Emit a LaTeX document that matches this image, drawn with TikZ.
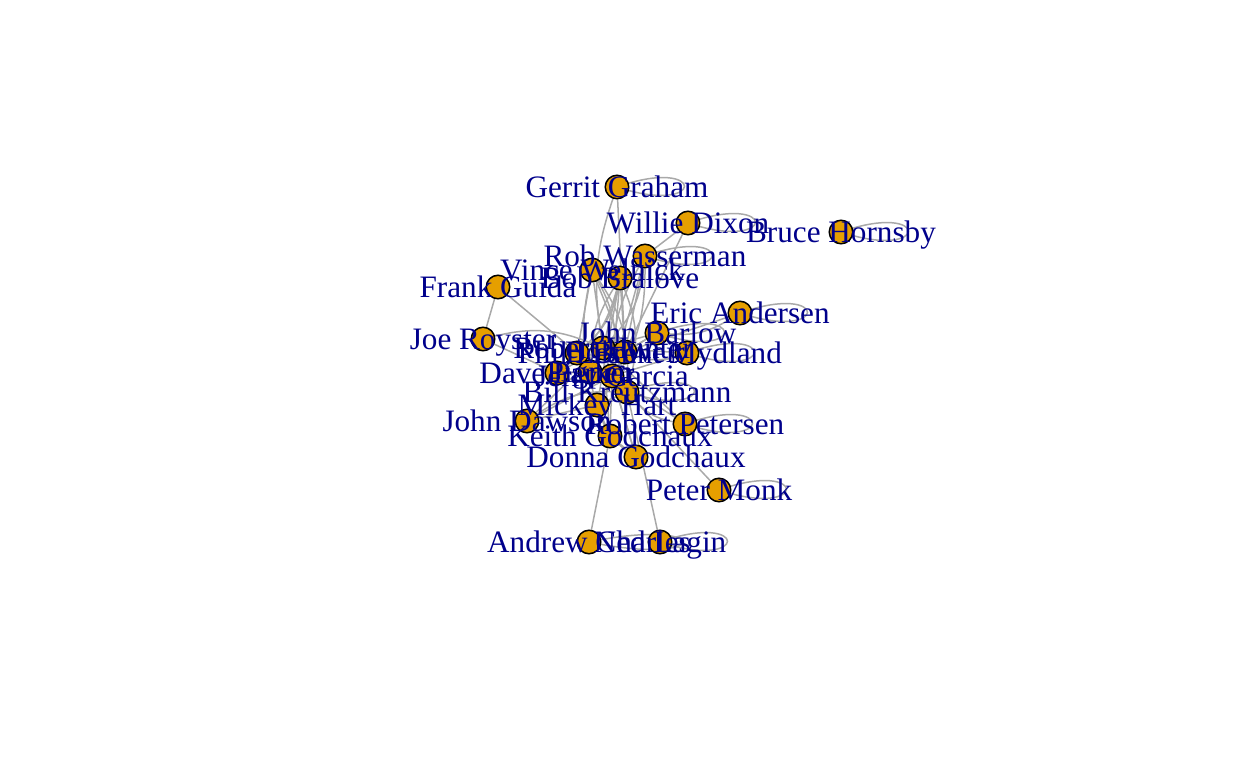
\documentclass[tikz,border=0pt]{standalone}
\usepackage{fontspec}
\setmainfont{Liberation Serif}
\usetikzlibrary{backgrounds}
\definecolor{vfill}{HTML}{E69F00}
\definecolor{lab}{HTML}{00008B}
\definecolor{edgec}{HTML}{A9A9A9}
\begin{document}
\begin{tikzpicture}[x=1pt,y=-1pt,
  vert/.style={circle,draw=black,line width=1.5pt,fill=vfill,minimum size=23.5pt,inner sep=0pt},
  lbl/.style={text=lab,font=\fontsize{31.2}{31.2}\selectfont,inner sep=0pt,text height=21pt,text depth=0pt,anchor=center},
  edge/.style={draw=edgec,line width=1.5pt}]
\useasboundingbox (0,0) rectangle (1248,768);
% vertices
\foreach \n/\x/\y in {RH/603/348,BW/625/352,PL/577/353,DP/557/373,PP/590/372,JG/612/376,BK/627/392,MH/597/405,
  JB/657/333,BM/687/353,KG/610/436,DG/636/457,RP/685/424,JD/527/421,JR/483/339,FG/498/287,VW/592/270,
  BB/620/278,RW/645/256,WD/688/223,GG/617/187,BH/841/232,EA/740/313,PM/719/490,AC/589/542,NL/660/542}
  \node[vert] (\n) at (\x,\y) {};
% edges
\begin{pgfonlayer}{background}
\foreach \a/\b in {GG/BW,WD/RW,WD/BW,RW/BW,RW/JG,VW/RH,VW/BW,VW/PL,BB/RH,BB/BW,BB/JG,BB/MH,
  FG/JR,FG/PL,JR/DP,JB/BW,JB/RH,JB/BM,BM/RH,BM/JG,JD/RH,JD/MH,JD/JG,RP/RH,RP/JG,KG/RH,KG/JG,KG/DG,
  DG/RH,DG/JG,PM/BK,AC/KG,NL/BK,RH/JG,RH/BW,RH/PL,BW/JG,JG/BK,BK/MH,MH/JG,PL/PP,DP/PP,DP/RH,EA/BW,MH/KG}
  \draw[edge] (\a) -- (\b);
\foreach \a/\b in {RW/RH,VW/JG,VW/BB,BB/BK,BB/PL,RW/MH,VW/BK,BB/DP,JR/RH,EA/JB,BM/BW,RP/BK,DG/MH,JD/BK}
  \draw[edge] (\a) to[bend left=18] (\b);
\foreach \a/\b in {VW/MH,BB/PP,RW/JG,GG/RH,JB/JG}
  \draw[edge] (\a) to[bend right=14] (\b);
\foreach \n in {GG,WD,BH,RW,EA,BM,RP,PM,NL,BK,JB}
  \draw[edge] (\n.center) .. controls +(90,-32) and +(90,30) .. (\n.center);
\draw[edge] (AC.center) .. controls +(125,-26) and +(125,26) .. (AC.center);
\end{pgfonlayer}
% labels
\node[lbl] at (GG) {Gerrit Graham};
\node[lbl] at (WD) {Willie Dixon};
\node[lbl] at (BH) {Bruce Hornsby};
\node[lbl] at (RW) {Rob Wasserman};
\node[lbl] at (VW) {Vince Welnick};
\node[lbl] at (BB) {Bob Bralove};
\node[lbl] at (FG) {Frank Guida};
\node[lbl] at (EA) {Eric Andersen};
\node[lbl] at (JR) {Joe Royster};
\node[lbl] at (JB) {John Barlow};
\node[lbl] at (BM) {Brent Mydland};
\node[lbl] at (RH) {Robert Hunter};
\node[lbl] at (BW) {Bob Weir};
\node[lbl] at (PL) {Phil Lesh};
\node[lbl] at (DP) {Dave Parker};
\node[lbl] at (PP) {Pigpen};
\node[lbl] at (JG) {Jerry Garcia};
\node[lbl] at (BK) {Bill Kreutzmann};
\node[lbl] at (MH) {Mickey Hart};
\node[lbl] at (JD) {John Dawson};
\node[lbl] at (RP) {Robert Petersen};
\node[lbl] at (KG) {Keith Godchaux};
\node[lbl] at (DG) {Donna Godchaux};
\node[lbl] at (PM) {Peter Monk};
\node[lbl] at (AC) {Andrew Charles};
\node[lbl] at (NL) {Ned Lagin};
\end{tikzpicture}
\end{document}
